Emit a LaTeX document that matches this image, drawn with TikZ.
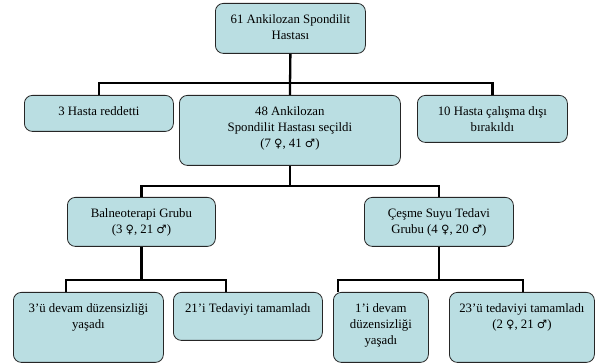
\documentclass[tikz,border=0pt]{standalone}
\usepackage{fontspec}
\setmainfont{Liberation Serif}
\newfontfamily\isaret{DejaVu Sans}
\usepackage{tikz}
\definecolor{kuturengi}{RGB}{186,222,226}
\def\icerik#1#2#3{\parbox[c][#2][t]{#1}{\centering\vspace*{11pt}#3}}
\def\kadin{{\isaret\fontsize{11.5}{16}\selectfont ♀}}
\def\erkek{{\isaret\fontsize{11.5}{16}\selectfont ♂}}

\begin{document}
\begin{tikzpicture}[x=1pt,y=-1pt,
        kutu/.style={draw=black!85,line width=0.8pt,fill=kuturengi,rounded corners=8pt,
            anchor=north west,inner sep=0pt,font=\fontsize{12.8}{16}\selectfont},
        baglanti/.style={line width=2.3pt}]
            \useasboundingbox (0,0) rectangle (595,363);
            % ust seviye
            \node[kutu] (top) at (215,3) {\icerik{150pt}{50pt}{61 Ankilozan Spondilit\\Hastası}};
            \node[kutu] (rej) at (24,95) {\icerik{149pt}{36pt}{3 Hasta reddetti}};
            \node[kutu] (sec) at (179,95) {\icerik{221pt}{70pt}{48 Ankilozan\\Spondilit Hastası seçildi\\(7 \kadin, 41 \erkek)}};
            \node[kutu] (exc) at (417,95) {\icerik{150pt}{47pt}{10 Hasta çalışma dışı\\bırakıldı}};
            % gruplar
            \node[kutu] (bal) at (67,197) {\icerik{148pt}{49pt}{Balneoterapi Grubu\\(3 \kadin, 21 \erkek)}};
            \node[kutu] (cesme) at (364,197) {\icerik{149pt}{49pt}{Çeşme Suyu Tedavi\\Grubu (4 \kadin, 20 \erkek)}};
            % sonuclar
            \node[kutu] (d1) at (13,292) {\icerik{150pt}{70pt}{3’ü devam düzensizliği\\yaşadı}};
            \node[kutu] (d2) at (173,292) {\icerik{149pt}{48pt}{21’i Tedaviyi tamamladı}};
            \node[kutu] (d3) at (333,292) {\icerik{95pt}{70pt}{1’i devam\\düzensizliği\\yaşadı}};
            \node[kutu] (d4) at (449,292) {\icerik{145pt}{70pt}{23’ü tedaviyi tamamladı\\(2 \kadin, 21 \erkek)}};
            \coordinate (j1) at (top.south |- 0,83);
            \coordinate (j2) at (sec.south |- 0,186);
            \coordinate (j3) at (bal.south |- 0,280);
            \coordinate (j4) at (cesme.south |- 0,280);
            \draw[baglanti] (top.south) -- (sec.north);
            \draw[baglanti] (rej.north) |- (j1) -| (exc.north);
            \draw[baglanti] (sec.south) -- (j2);
            \draw[baglanti] (bal.north) |- (j2) -| (cesme.north);
            \draw[baglanti] (bal.south) -- (j3);
            \draw[baglanti] ([xshift=53pt]d1.north west) |- (j3) -| ([xshift=53pt]d2.north west);
            \draw[baglanti] (cesme.south) -- (j4);
            \draw[baglanti] ([xshift=5pt]d3.north west) |- (j4) -| ([xshift=74pt]d4.north west);
        \end{tikzpicture}
\end{document}
